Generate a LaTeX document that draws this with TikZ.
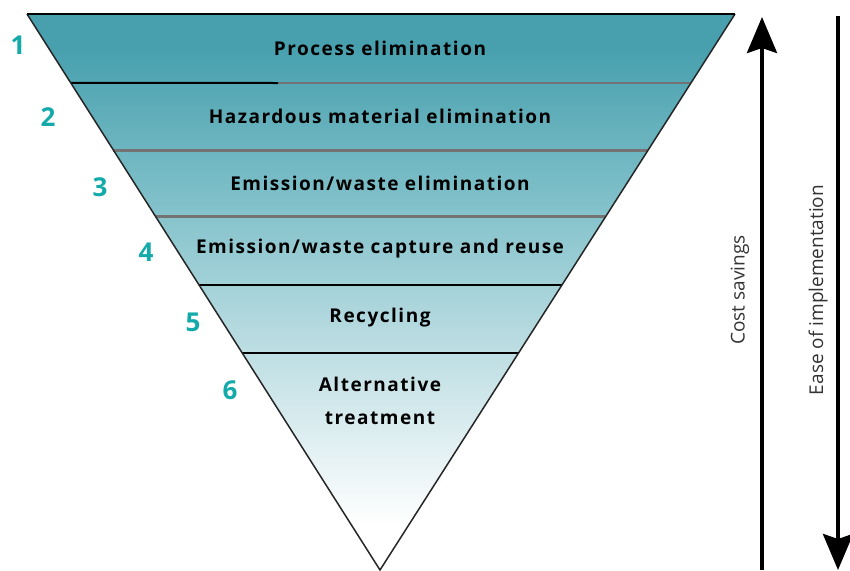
\documentclass[tikz,border=0pt]{standalone}
\usepackage{fontspec}
\setmainfont{Open Sans}
\newfontfamily\levelfont{Open Sans}[LetterSpace=8]
\usetikzlibrary{arrows.meta,calc}
\definecolor{tealtop}{RGB}{72,160,174}
\definecolor{tealmid}{RGB}{120,188,198}
\definecolor{tealpale}{RGB}{175,215,221}
\definecolor{teallow}{RGB}{218,236,239}
\definecolor{numteal}{RGB}{20,170,170}
\pgfdeclareverticalshading{hierfade}{100bp}{color(0bp)=(white); color(29bp)=(white); color(38bp)=(teallow); color(48bp)=(tealpale); color(60bp)=(tealmid); color(72bp)=(tealtop); color(100bp)=(tealtop)}

\begin{document}
\begin{tikzpicture}[x=1pt,y=-1pt,>=Stealth,
  level/.style={font=\levelfont\bfseries\fontsize{19}{33}\selectfont,align=center},
  num/.style={text=numteal,font=\bfseries\fontsize{26}{28}\selectfont},
  side/.style={rotate=90,text=black!80,font=\fontsize{19}{22}\selectfont}]
  \useasboundingbox (0,0) rectangle (850,570);
  \coordinate (L) at (27,14);
  \coordinate (R) at (735,14);
  \coordinate (V) at (380,570);
  \shade[shading=hierfade] (L) -- (R) -- (V) -- cycle;
  \foreach \t/\c/\w in {0.124/black!55/2.5pt,0.245/black!55/3pt,0.365/black!55/3pt,0.487/black/2pt,0.610/black/2pt}
    \draw[\c,line width=\w] ($(L)!\t!(V)$) -- ($(R)!\t!(V)$);
  \draw[black,line width=2pt] ($(L)!0.124!(V)$) -- (278,83);
  \draw[black!85,line width=1.5pt] (R) -- (V) -- (L);
  \draw[black,line width=2.5pt] (L) -- (R);

  \node[level] (lv1) at (380,48) {Process elimination};
  \node[level] (lv2) at (380,116) {Hazardous material elimination};
  \node[level] (lv3) at (380,183) {Emission/waste elimination};
  \node[level] (lv4) at (380,249) {Emission/waste capture and reuse};
  \node[level] (lv5) at (380,318) {Recycling};
  \node[level] (lv6) at (380,401) {Alternative\\treatment};

  \node[num] (n1) at (18,45) {1};
  \node[num] (n2) at (48,117) {2};
  \node[num] (n3) at (100,187) {3};
  \node[num] (n4) at (146,252) {4};
  \node[num] (n5) at (193,322) {5};
  \node[num] (n6) at (230,390) {6};

  \coordinate (cs0) at (762,570);
  \coordinate (cs1) at (762,17);
  \coordinate (ei0) at (838,16);
  \coordinate (ei1) at (838,570);
  \draw[line width=4pt,-{Stealth[width=30pt,length=36pt,inset=5pt]}] (cs0) -- (cs1);
  \draw[line width=4pt,-{Stealth[width=30pt,length=36pt,inset=5pt]}] (ei0) -- (ei1);
  \node[side] (cost) at (740,290) {Cost savings};
  \node[side] (ease) at (818,290) {Ease of implementation};
\end{tikzpicture}
\end{document}
